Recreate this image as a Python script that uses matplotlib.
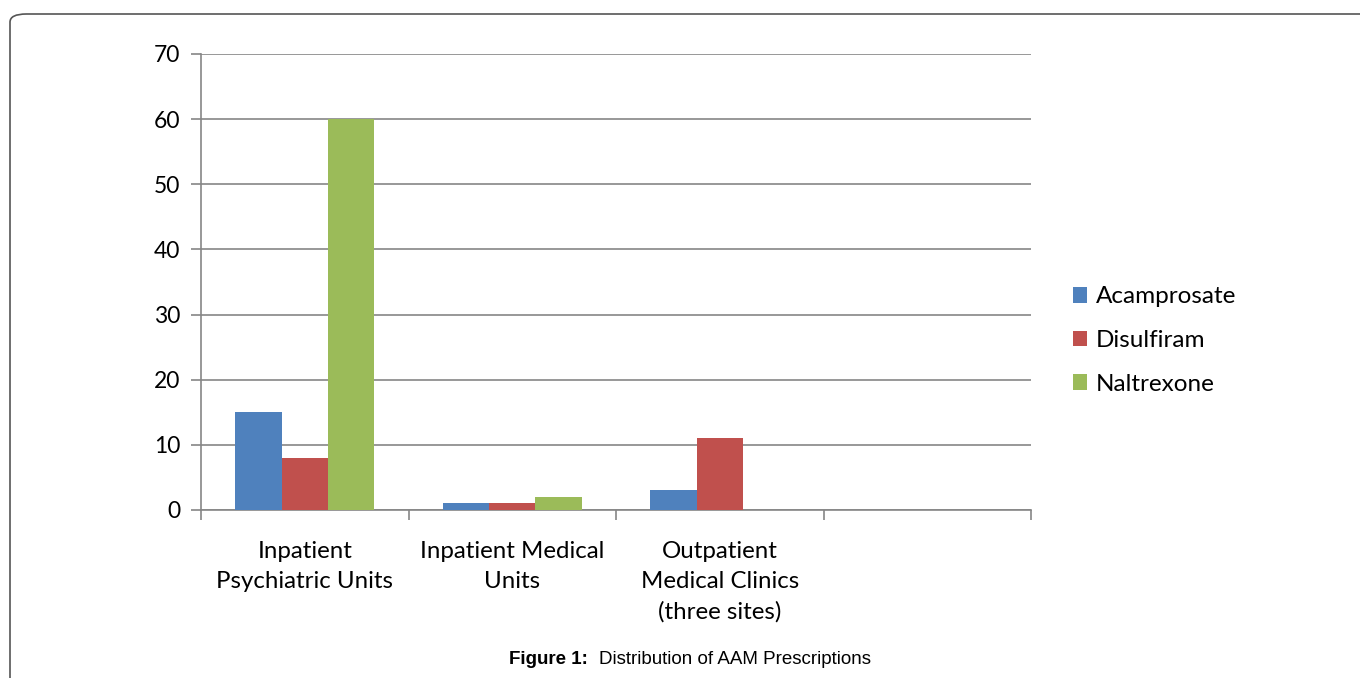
import numpy as np
import matplotlib.pyplot as plt
from matplotlib.patches import FancyBboxPatch

# données
categories = ["Inpatient\nPsychiatric Units", "Inpatient Medical\nUnits",
              "Outpatient\nMedical Clinics\n(three sites)", ""]
acamprosate = [15, 1, 3, 0]
disulfiram = [8, 1, 11, 0]
naltrexone = [60, 2, 0, 0]
series = ["Acamprosate", "Disulfiram", "Naltrexone"]
couleurs = ["#4F81BD", "#C0504D", "#9BBB59"]
yticks = [0, 10, 20, 30, 40, 50, 60, 70]

police = "Lato"

fig = plt.figure(figsize=(13.6, 6.78), dpi=100)

# cadre arrondi autour de la figure
cadre = FancyBboxPatch((10 / 1360, -0.1), 1.2, 1 - 14 / 678 + 0.1,
                       boxstyle="round,pad=0,rounding_size=0.012",
                       transform=fig.transFigure, fill=False,
                       edgecolor="#555555", linewidth=1.2, clip_on=False)
fig.patches.append(cadre)

ax = fig.add_axes([201 / 1360, 1 - 510 / 678, 830 / 1360, 456 / 678])

x = np.arange(len(categories))
w = 0.224
for i, (vals, nom, c) in enumerate(zip([acamprosate, disulfiram, naltrexone], series, couleurs)):
    ax.bar(x + (i - 1) * w, vals, w, color=c, label=nom, zorder=3)

ax.set_xlim(-0.5, len(categories) - 0.5)
ax.set_ylim(0, 70)
ax.set_yticks(yticks)
ax.set_yticklabels([str(v) for v in yticks], fontsize=16.5, family=police)
ax.yaxis.grid(True, color="#868686", linewidth=1.2, zorder=0)
ax.tick_params(axis="y", length=7, width=1.2, color="#868686", pad=8)

# ticks aux frontières des catégories, labels au centre
ax.set_xticks(np.arange(-0.5, len(categories), 1.0))
ax.set_xticklabels([])
ax.set_xticks(x, minor=True)
ax.set_xticklabels(categories, minor=True, fontsize=17.3, family=police, linespacing=1.53)
ax.tick_params(axis="x", which="major", length=7, width=1.2, color="#868686")
ax.tick_params(axis="x", which="minor", length=0, pad=22)

for s in ["top", "right"]:
    ax.spines[s].set_visible(False)
for s in ["left", "bottom"]:
    ax.spines[s].set_color("#868686")
    ax.spines[s].set_linewidth(1.2)

handles, labels = ax.get_legend_handles_labels()
fig.legend(handles, labels, loc="center left", bbox_to_anchor=(1051 / 1360, 1 - 340.5 / 678),
           frameon=False, prop={"family": police, "size": 17.5},
           handlelength=0.6, handleheight=0.6, handletextpad=0.35, labelspacing=0.93)

fig.text(509 / 1360, 1 - 659 / 678, "Figure 1:", ha="left", va="center",
         fontsize=13.5, fontweight="bold", family="Liberation Sans")
fig.text(599 / 1360, 1 - 659 / 678, "Distribution of AAM Prescriptions", ha="left", va="center",
         fontsize=13.5, family="Liberation Sans")

fig.savefig("out.png", dpi=100)
